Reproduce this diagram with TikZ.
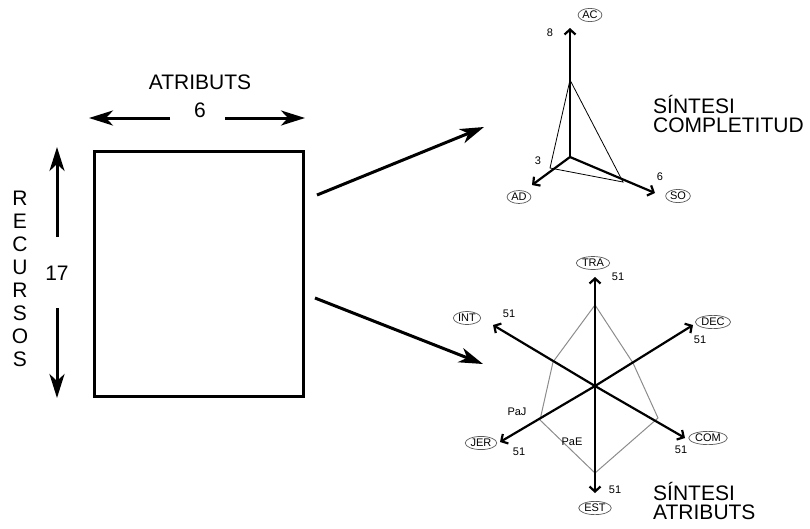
\documentclass[tikz,border=0pt]{standalone}
\usepackage{fontspec}
\setmainfont{Liberation Sans}
\usetikzlibrary{arrows.meta,shapes.geometric}

\begin{document}
\begin{tikzpicture}[x=1pt,y=-1pt]
\tikzset{big arrow/.style={line width=3pt,-{Stealth[length=24pt,width=15pt,inset=7pt]}}}
\tikzset{axis arrow/.style={line width=2.2pt,-{Straight Barb[length=5pt,width=11pt]}}}
\tikzset{axis label/.style={ellipse,draw=black!65,line width=0.7pt,inner sep=0.8pt,font=\fontsize{11}{12}\selectfont}}
\tikzset{axis value/.style={font=\fontsize{11}{12}\selectfont,inner sep=0pt}}
\tikzset{title text/.style={font=\fontsize{21}{19}\selectfont,align=left,anchor=west,inner sep=0pt}}
\tikzset{big text/.style={font=\fontsize{21}{23}\selectfont,inner sep=0pt}}
\tikzset{radar line/.style={black!45,line width=1pt}}

\useasboundingbox (0,0) rectangle (810,528);

% la matriu de recursos x atributs
\node[draw,line width=3pt,minimum width=209pt,minimum height=245pt] (matriu) at (199,274) {};

\node[big text] (atributs) at (200,82) {ATRIBUTS};
\node[big text] (nAtr) at (200,110) {6};
\coordinate (atrW) at (170,118);
\coordinate (atrWtip) at (89,118);
\coordinate (atrE) at (225,118);
\coordinate (atrEtip) at (305,118);
\draw[big arrow] (atrW) -- (atrWtip);
\draw[big arrow] (atrE) -- (atrEtip);

\node[big text,align=center,font=\fontsize{21}{22.9}\selectfont] (recursos) at (20,279) {R\\E\\C\\U\\R\\S\\O\\S};
\node[big text] (nRec) at (57,273) {17};
\coordinate (recN) at (57,237);
\coordinate (recNtip) at (57,147);
\coordinate (recS) at (57,308);
\coordinate (recStip) at (57,398);
\draw[big arrow] (recN) -- (recNtip);
\draw[big arrow] (recS) -- (recStip);

% fletxes cap a les sintesis
\coordinate (fA) at (317,195);
\coordinate (fAtip) at (484,127);
\coordinate (fB) at (315,298);
\coordinate (fBtip) at (483,364);
\draw[big arrow] (fA) -- (fAtip);
\draw[big arrow] (fB) -- (fBtip);

% sintesi completitud
\coordinate (c1) at (570,157);
\coordinate (AC) at (570,28);
\coordinate (AD) at (532,185);
\coordinate (SO) at (655,193);
\coordinate (pAC) at (570,80);
\coordinate (pAD) at (550,168);
\coordinate (pSO) at (623,182);
\draw[black,line width=0.8pt] (pAC) -- (pAD) -- (pSO) -- cycle;
\draw[axis arrow] (c1) -- (AC);
\draw[axis arrow] (c1) -- (AD);
\draw[axis arrow] (c1) -- (SO);
\node[axis label] (lAC) at (590,15) {AC};
\node[axis label] (lAD) at (519,197) {AD};
\node[axis label] (lSO) at (678,196) {SO};
\node[axis value] (vAC) at (550,33) {8};
\node[axis value] (vAD) at (538,161) {3};
\node[axis value] (vSO) at (660,177) {6};
\node[title text] (titolC) at (653,114) {SÍNTESI\\COMPLETITUD};

% sintesi atributs
\coordinate (c2) at (595,386);
\coordinate (TRA) at (595,277);
\coordinate (INT) at (493,325);
\coordinate (DEC) at (693,325);
\coordinate (JER) at (500,442);
\coordinate (COM) at (685,438);
\coordinate (EST) at (595,493);
\coordinate (pTRA) at (595,305);
\coordinate (pINT) at (553,362);
\coordinate (pJER) at (540,420);
\coordinate (pEST) at (595,473);
\coordinate (pCOM) at (658,418);
\coordinate (pDEC) at (633,363);
\draw[radar line] (pTRA) -- (pINT) -- (pJER) -- (pEST) -- (pCOM) -- (pDEC) -- cycle;
\foreach \eix in {TRA,INT,DEC,JER,COM,EST}
  \draw[axis arrow] (c2) -- (\eix);
\node[axis label] (lTRA) at (593,263) {TRA};
\node[axis label] (lINT) at (467,318) {INT};
\node[axis label] (lDEC) at (713,322) {DEC};
\node[axis label] (lJER) at (481,443) {JER};
\node[axis label] (lCOM) at (708,438) {COM};
\node[axis label] (lEST) at (595,508) {EST};
\node[axis value] (vTRA) at (618,277) {51};
\node[axis value] (vINT) at (509,314) {51};
\node[axis value] (vDEC) at (700,340) {51};
\node[axis value] (vJER) at (519,452) {51};
\node[axis value] (vCOM) at (681,450) {51};
\node[axis value] (vEST) at (615,490) {51};
\node[axis value] (paj) at (517,412) {PaJ};
\node[axis value] (pae) at (572,442) {PaE};
\node[title text] (titolA) at (653,501) {SÍNTESI\\ATRIBUTS};

\end{tikzpicture}
\end{document}
